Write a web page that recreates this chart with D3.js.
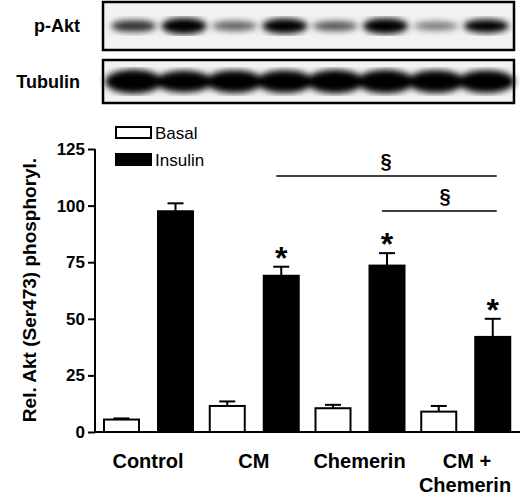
<!DOCTYPE html>
<html><head><meta charset="utf-8">
<script src="https://cdn.jsdelivr.net/npm/d3@7"></script>
<style>body{margin:0;background:#fff}text{font-family:Arial,"Liberation Sans",sans-serif}</style>
</head><body><svg id="c" width="520" height="496"></svg>
<script>
// data
const groups = ["Control", "CM", "Chemerin", "CM +\nChemerin"];
const basal = [5.5, 11.5, 10.5, 9];
const basalErr = [0.5, 2, 1.5, 2.5];
const insulin = [97.5, 69, 73.5, 42];
const insulinErr = [3.5, 4, 5.5, 8];
const starred = [false, true, true, true];
const yTicks = [0, 25, 50, 75, 100, 125];
// blot band intensity per lane (0..1)
const pAkt = [0.55, 1, 0.35, 0.9, 0.4, 0.95, 0.25, 0.75];
const tubulin = [1, 0.85, 0.9, 0.9, 0.95, 0.95, 0.9, 0.9];

const svg = d3.select("#c");
const defs = svg.append("defs");
defs.append("filter").attr("id", "blur").append("feGaussianBlur").attr("stdDeviation", 3);

// blots
const lane = d3.scaleBand().domain(d3.range(8)).range([108, 512]).padding(0.02);
function blot(y0, h, vals, label, bw, extra) {
  svg.append("rect").attr("x", 103).attr("y", y0).attr("width", 411).attr("height", h)
    .attr("fill", "#f2f2f2");
  const g = svg.append("g").attr("filter", "url(#blur)");
  vals.forEach((v, i) => {
    g.append("ellipse").attr("cx", lane(i) + lane.bandwidth() / 2).attr("cy", y0 + h / 2)
      .attr("rx", lane.bandwidth() / 2 - 2 + extra).attr("ry", bw * (0.4 + 0.6 * v))
      .attr("fill", "#000").attr("opacity", Math.min(1, 0.25 + v));
  });
  svg.append("rect").attr("x", 103).attr("y", y0).attr("width", 411).attr("height", h)
    .attr("fill", "none").attr("stroke", "#000").attr("stroke-width", 2.5);
  svg.append("text").attr("x", 80).attr("y", y0 + h / 2 + 6).attr("text-anchor", "end")
    .attr("font-size", 18).attr("font-weight", "bold").text(label);
}
blot(2, 48, pAkt, "p-Akt", 8, 0);
blot(60, 43, tubulin, "Tubulin", 12, 6);

// bar chart
const y = d3.scaleLinear().domain([0, 125]).range([432, 149]);
const x = d3.scaleBand().domain(groups).range([96, 519]).paddingInner(0);
const bw = 35;

svg.append("g").attr("transform", "translate(95,0)")
  .call(d3.axisLeft(y).tickValues(yTicks).tickSize(7).tickPadding(3))
  .call(g => g.select(".domain").attr("stroke-width", 2).attr("d", "M0,149V432"))
  .call(g => g.selectAll(".tick line").attr("stroke-width", 2))
  .call(g => g.selectAll("text").attr("font-size", 17).attr("font-weight", "bold"));
svg.append("line").attr("x1", 94).attr("x2", 520).attr("y1", 432).attr("y2", 432)
  .attr("stroke", "#000").attr("stroke-width", 2);

function bars(vals, errs, off, fill) {
  const g = svg.append("g");
  vals.forEach((v, i) => {
    const x0 = x(groups[i]) + off;
    const cx = x0 + bw / 2;
    g.append("line").attr("x1", cx).attr("x2", cx).attr("y1", y(v)).attr("y2", y(v + errs[i]))
      .attr("stroke", "#000").attr("stroke-width", 2);
    g.append("line").attr("x1", cx - 8).attr("x2", cx + 8).attr("y1", y(v + errs[i])).attr("y2", y(v + errs[i]))
      .attr("stroke", "#000").attr("stroke-width", 2);
    g.append("rect").attr("x", x0).attr("y", y(v)).attr("width", bw).attr("height", y(0) - y(v))
      .attr("fill", fill).attr("stroke", "#000").attr("stroke-width", 2);
  });
}
bars(basal, basalErr, 8, "#fff");
bars(insulin, insulinErr, 62, "#000");

insulin.forEach((v, i) => {
  if (!starred[i]) return;
  svg.append("text").attr("x", x(groups[i]) + 62 + bw / 2).attr("y", y(v + insulinErr[i]) + 2)
    .attr("text-anchor", "middle").attr("font-size", 32).attr("font-weight", "bold").text("*");
});

// significance brackets
const sig = [[1, 3, 176, 386], [2, 3, 211, 445]];
sig.forEach(([a, b, ly, sx]) => {
  svg.append("line").attr("x1", x(groups[a]) + 62 + bw / 2 - 5).attr("x2", x(groups[b]) + 62 + bw / 2 + 4)
    .attr("y1", ly).attr("y2", ly).attr("stroke", "#000").attr("stroke-width", 1.5);
  svg.append("text").attr("x", sx).attr("y", ly - 8).attr("text-anchor", "middle")
    .attr("font-size", 20).attr("font-weight", "bold").text("§");
});

// category labels
groups.forEach((gname, i) => {
  const lines = gname.split("\n");
  lines.forEach((t, k) => {
    const cx = i === 3 ? (k === 0 ? 467 : 465) : x(gname) + 52;
    svg.append("text").attr("x", cx).attr("y", 468 + k * 24)
      .attr("text-anchor", "middle").attr("font-size", 20).attr("font-weight", "bold").text(t);
  });
});

// legend
[["Basal", "#fff", 127], ["Insulin", "#000", 154]].forEach(([t, f, ly]) => {
  svg.append("rect").attr("x", 116).attr("y", ly).attr("width", 35).attr("height", 11)
    .attr("fill", f).attr("stroke", "#000").attr("stroke-width", 2);
  svg.append("text").attr("x", 155).attr("y", ly + 12).attr("font-size", 17).text(t);
});

// y label
svg.append("text").attr("transform", "translate(36,290) rotate(-90)").attr("text-anchor", "middle")
  .attr("font-size", 19).attr("font-weight", "bold").text("Rel. Akt (Ser473) phosphoryl.");
</script></body></html>
